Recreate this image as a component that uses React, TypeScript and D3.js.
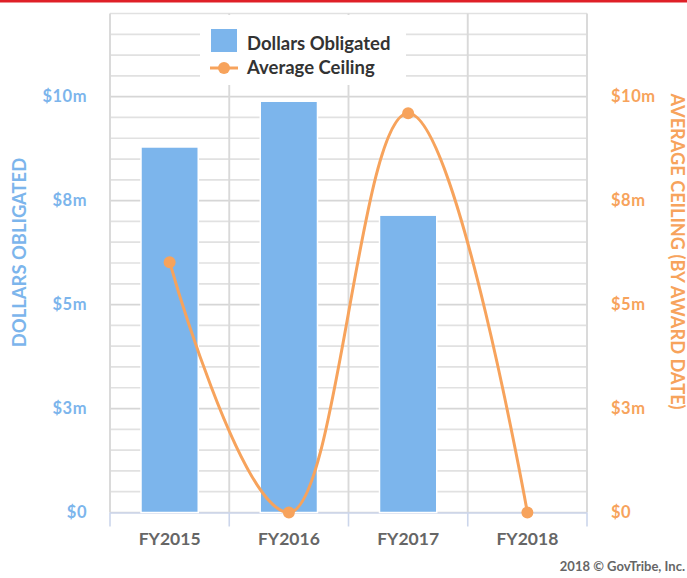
import React from "react";
import * as d3 from "d3";

const categories = ["FY2015", "FY2016", "FY2017", "FY2018"];
const dollarsObligated = [8.79, 9.89, 7.15, 0];
const averageCeiling = [6.02, 0, 9.6, 0];
const tickValues = [0, 2.5, 5, 7.5, 10];
const tickLabels = ["$0", "$3m", "$5m", "$8m", "$10m"];
const gridValues = d3.range(0, 12.01, 0.5);

const W = 687;
const H = 578;
const left = 110;
const right = 587;
const top = 13.5;
const bottom = 512.5;

const BLUE = "#7cb5ec";
const ORANGE = "#f7a35c";
const FONT = "Lato, 'Open Sans', sans-serif";

function splinePath(pts: [number, number][]): string {
  const p = d3.path();
  const smoothing = 1.5;
  const denom = smoothing + 1;
  const rc: ({ x: number; y: number } | null)[] = pts.map(() => null);
  const lc: ({ x: number; y: number } | null)[] = pts.map(() => null);
  for (let i = 1; i < pts.length - 1; i++) {
    const [lastX, lastY] = pts[i - 1];
    const [plotX, plotY] = pts[i];
    const [nextX, nextY] = pts[i + 1];
    const leftContX = (smoothing * plotX + lastX) / denom;
    let leftContY = (smoothing * plotY + lastY) / denom;
    const rightContX = (smoothing * plotX + nextX) / denom;
    let rightContY = (smoothing * plotY + nextY) / denom;
    let correction = 0;
    if (rightContX !== leftContX) {
      correction =
        ((rightContY - leftContY) * (rightContX - plotX)) / (rightContX - leftContX) +
        plotY -
        rightContY;
    }
    leftContY += correction;
    rightContY += correction;
    if (leftContY > lastY && leftContY > plotY) {
      leftContY = Math.max(lastY, plotY);
      rightContY = 2 * plotY - leftContY;
    } else if (leftContY < lastY && leftContY < plotY) {
      leftContY = Math.min(lastY, plotY);
      rightContY = 2 * plotY - leftContY;
    }
    if (rightContY > nextY && rightContY > plotY) {
      rightContY = Math.max(nextY, plotY);
      leftContY = 2 * plotY - rightContY;
    } else if (rightContY < nextY && rightContY < plotY) {
      rightContY = Math.min(nextY, plotY);
      leftContY = 2 * plotY - rightContY;
    }
    lc[i] = { x: leftContX, y: leftContY };
    rc[i] = { x: rightContX, y: rightContY };
  }
  pts.forEach((pt, i) => {
    if (i === 0) {
      p.moveTo(pt[0], pt[1]);
    } else {
      const a = rc[i - 1] || { x: pts[i - 1][0], y: pts[i - 1][1] };
      const b = lc[i] || { x: pt[0], y: pt[1] };
      p.bezierCurveTo(a.x, a.y, b.x, b.y, pt[0], pt[1]);
    }
  });
  return p.toString();
}

export default function App() {
  const x = d3
    .scaleBand<string>()
    .domain(categories)
    .range([left, right])
    .paddingInner(0.52)
    .paddingOuter(0.26);
  const step = x.step();
  const cx = (c: string) => (x(c) as number) + x.bandwidth() / 2;
  const y = d3.scaleLinear().domain([0, 12]).range([bottom, top]);

  const boundaries = d3.range(0, categories.length + 1).map((i) => left + i * step);
  const linePts: [number, number][] = categories.map((c, i) => [cx(c), y(averageCeiling[i])]);

  return (
    <svg
      width={W}
      height={H}
      style={{ position: "absolute", left: 0, top: 0, fontFamily: FONT }}
    >
      <rect x={0} y={0} width={W} height={H} fill="#fff" />
      <rect x={0} y={0} width={W} height={2.5} fill="#df2027" />

      {/* horizontal grid */}
      {gridValues.map((v) => (
        <line
          key={"g" + v}
          x1={left}
          x2={right}
          y1={y(v)}
          y2={y(v)}
          stroke={tickValues.includes(v) ? "#d6d6d6" : "#e1e1e1"}
          strokeWidth={1.7}
        />
      ))}
      {/* vertical grid */}
      {boundaries.map((bx, i) => (
        <line
          key={"v" + i}
          x1={bx}
          x2={bx}
          y1={top}
          y2={bottom}
          stroke="#d9d9d9"
          strokeWidth={1.9}
        />
      ))}

      {/* x axis line & ticks */}
      <line x1={left} x2={right} y1={bottom + 0.5} y2={bottom + 0.5} stroke="#ccd6eb" strokeWidth={1.6} />
      {boundaries.map((bx, i) => (
        <line
          key={"t" + i}
          x1={bx}
          x2={bx}
          y1={bottom}
          y2={bottom + 14}
          stroke="#ccd6eb"
          strokeWidth={1.6}
        />
      ))}

      {/* bars */}
      {categories.map((c, i) => (
        <rect
          key={"b" + c}
          x={x(c)}
          y={y(dollarsObligated[i])}
          width={x.bandwidth()}
          height={bottom - y(dollarsObligated[i])}
          fill={BLUE}
          stroke="#fff"
          strokeWidth={1.5}
        />
      ))}

      {/* legend */}
      <rect x={200} y={15} width={206} height={70} fill="#fff" />
      <rect x={211} y={29} width={26} height={23} fill={BLUE} />
      <text x={247} y={49.5} fontSize={18.5} fontWeight={700} fill="#333">
        Dollars Obligated
      </text>
      <line x1={210} x2={238} y1={68} y2={68} stroke={ORANGE} strokeWidth={3} />
      <circle cx={224} cy={68} r={6} fill={ORANGE} />
      <text x={247} y={74} fontSize={18.5} fontWeight={700} fill="#333">
        Average Ceiling
      </text>

      {/* line series */}
      <path d={splinePath(linePts)} fill="none" stroke={ORANGE} strokeWidth={3} />
      {linePts.map((pt, i) => (
        <circle key={"m" + i} cx={pt[0]} cy={pt[1]} r={6} fill={ORANGE} />
      ))}

      {/* left axis labels */}
      {tickValues.map((v, i) => (
        <text
          key={"l" + v}
          x={87}
          y={y(v) + 5.8}
          textAnchor="end"
          fontSize={16.5}
          fontWeight={700}
          letterSpacing={0.5}
          fill={BLUE}
        >
          {tickLabels[i]}
        </text>
      ))}
      {/* right axis labels */}
      {tickValues.map((v, i) => (
        <text
          key={"r" + v}
          x={611}
          y={y(v) + 5.8}
          textAnchor="start"
          fontSize={16.5}
          fontWeight={700}
          letterSpacing={0.5}
          fill={ORANGE}
        >
          {tickLabels[i]}
        </text>
      ))}

      {/* category labels */}
      {categories.map((c) => (
        <text
          key={"c" + c}
          x={cx(c)}
          y={545}
          textAnchor="middle"
          fontSize={17.5}
          fontWeight={700}
          fill="#666"
        >
          {c}
        </text>
      ))}

      {/* axis titles */}
      <text
        transform={`translate(26,252.5) rotate(-90)`}
        textAnchor="middle"
        fontSize={18.4}
        fontWeight={700}
        fill={BLUE}
      >
        DOLLARS OBLIGATED
      </text>
      <text
        transform={`translate(670.5,251.5) rotate(90)`}
        textAnchor="middle"
        fontSize={18.2}
        fontWeight={700}
        fill={ORANGE}
      >
        AVERAGE CEILING (BY AWARD DATE)
      </text>

      {/* credits */}
      <text x={685} y={571} textAnchor="end" fontSize={13} fontWeight={700} fill="#666">
        2018 © GovTribe, Inc.
      </text>
    </svg>
  );
}
